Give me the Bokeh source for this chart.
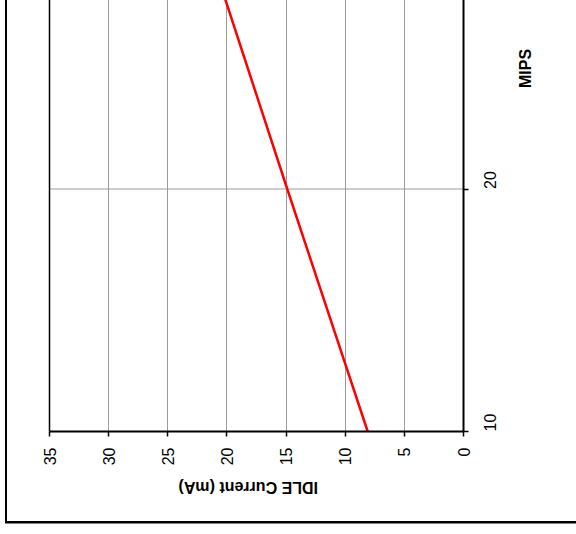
import math
from bokeh.plotting import figure
from bokeh.models import Range1d, FixedTicker, Span
from bokeh.embed import file_html
from bokeh.resources import INLINE

# ---- data ----
mips = [10, 20, 30]
idle_current_ma = [8.1, 14.9, 21.6]
current_ticks = [0, 5, 10, 15, 20, 25, 30, 35]
mips_ticks = [10, 20]
x_title = "IDLE Current (mA)"
y_title = "MIPS"

# ---- layout constants (page pixels) ----
FLp, FRp, FTp, FBp = -107, 463, -256, 431   # plot frame on the page
AXL = 49                                     # page x of the 35 mA edge
CX, CY = FLp, FTp                            # canvas origin on the page
W, H = 576 - CX, 534 - CY
PX_PER_X = (FRp - AXL) / 35.0
PX_PER_Y = 24.25
X_START = 35 + (AXL - FLp) / PX_PER_X
Y_END = 10 + (FBp - FTp) / PX_PER_Y

p = figure(width=W, height=H, x_range=Range1d(X_START, 0), y_range=Range1d(10, Y_END),
           output_backend="svg", toolbar_location=None, y_axis_location="right",
           min_border_left=FLp - CX, min_border_right=576 - FRp,
           min_border_top=FTp - CY, min_border_bottom=534 - FBp)
bx = 5 - CX
by = 520.5 - CY
p.styles = {
    "margin-left": f"{CX}px",
    "margin-top": f"{CY}px",
    "background": (f"linear-gradient(#000,#000) {bx}px 0px / 2px {by + 2.5}px no-repeat, "
                   f"linear-gradient(#000,#000) {bx}px {by}px / {W - bx}px 2.5px no-repeat"),
}
p.outline_line_color = None
p.background_fill_color = None
p.border_fill_color = None

p.xaxis.ticker = FixedTicker(ticks=current_ticks)
p.xaxis.bounds = (min(current_ticks), max(current_ticks))
p.yaxis.ticker = FixedTicker(ticks=mips_ticks)
for ax in (p.xaxis, p.yaxis):
    ax.axis_line_color = "black"
    ax.axis_line_width = 2
    ax.major_tick_line_color = "black"
    ax.major_tick_line_width = 1.5
    ax.major_tick_out = 5
    ax.major_tick_in = 0
    ax.minor_tick_line_color = None
    ax.major_label_text_font = "Liberation Sans"
    ax.major_label_text_font_size = "16px"
    ax.major_label_text_color = "black"
    ax.major_label_orientation = math.pi / 2
    ax.axis_label_text_font = "Liberation Sans"
    ax.axis_label_text_font_style = "bold"
    ax.axis_label_text_font_size = "16px"
    ax.axis_label_text_color = "black"
p.xaxis.major_label_standoff = 11
p.yaxis.major_label_standoff = 21

xa = p.xaxis[0]
xa.axis_label = x_title
xa.axis_label_standoff = 19
xa.axis_label_orientation = math.pi

ya = p.yaxis[0]
ya.axis_label = y_title
ya.axis_label_standoff = 21
ya.axis_label_orientation = math.pi / 2

# vertical grid lines (current ticks) from the library grid
p.xgrid.ticker = FixedTicker(ticks=current_ticks)
p.xgrid.grid_line_color = "#9a9a9a"
p.xgrid.grid_line_width = 1
# horizontal grid lines (MIPS ticks) only across the 0..35 mA plot area
p.ygrid.visible = False
p.segment(x0=[max(current_ticks)] * len(mips_ticks), x1=[min(current_ticks)] * len(mips_ticks),
          y0=mips_ticks, y1=mips_ticks, line_color="#9a9a9a", line_width=1)

p.add_layout(Span(location=max(current_ticks), dimension="height",
                  line_color="black", line_width=1.5))

p.line(idle_current_ma, mips, line_color="#ff0000", line_width=2.5)

open("out.html", "w").write(file_html(p, INLINE))
